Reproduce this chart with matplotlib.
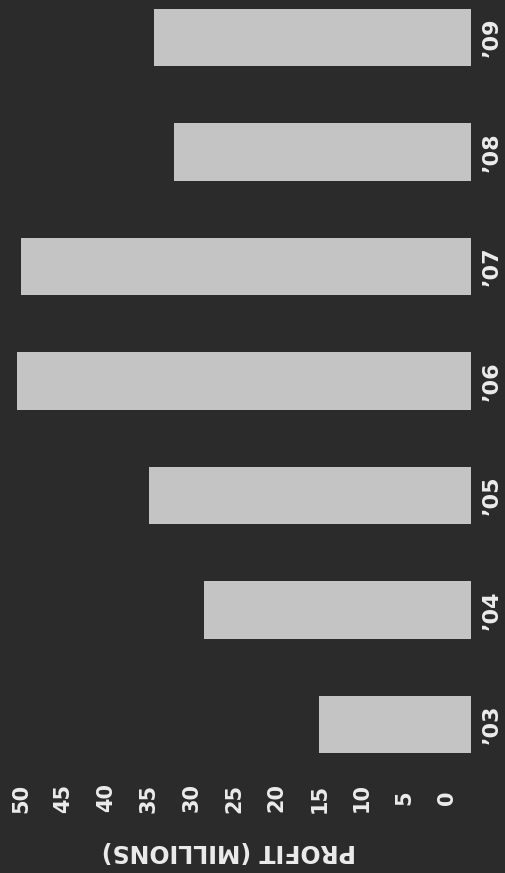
import matplotlib
matplotlib.use("Agg")
import matplotlib.pyplot as plt
import numpy as np

# Annual profit, millions
years = ["\u201903", "\u201904", "\u201905", "\u201906", "\u201907", "\u201908", "\u201909"]
profit = [15, 28.5, 35, 50.5, 50, 32, 34.4]
tick_values = [0, 5, 10, 15, 20, 25, 30, 35, 40, 45, 50]
axis_title = "PROFIT (MILLIONS)"

BG = "#2b2b2b"
BAR = "#c4c4c4"
INK = "#ececec"
BASE = -2.8  # bars rise from just below the zero line

W, H, DPI = 505, 873, 100
fig = plt.figure(figsize=(W / DPI, H / DPI), dpi=DPI, facecolor=BG)
ax = fig.add_axes([0, 0, 1, 1], facecolor=BG)

# chart is laid on its side: value axis runs right-to-left, years bottom-to-top
px_per_unit = 8.52
zero_px = 447
ax.set_xlim(zero_px / px_per_unit, (zero_px - W) / px_per_unit)
step = 114.5
first_center = 724.5
ax.set_ylim((first_center - H) / step, len(years) - 1 + (first_center - (len(years) - 1) * step) / step)

pos = np.arange(len(years))
vals = np.asarray(profit, dtype=float)
ax.barh(pos, vals - BASE, left=BASE, height=0.5, color=BAR, edgecolor="none")

font = dict(family="DejaVu Sans", weight="bold", color=INK)

# year labels beside the bar bases
x_year = (zero_px - 492) / px_per_unit
for p, lab in zip(pos, years):
    ax.text(x_year, p, lab, rotation=90, ha="center", va="center", fontsize=16, **font)

# value scale along the bottom edge
y_ticks = (first_center - 798) / step
for v in tick_values:
    ax.text(v, y_ticks, str(v), rotation=90, ha="center", va="center", fontsize=15, **font)

# value-axis title, upside down
ax.text((zero_px - 229) / px_per_unit, (first_center - 851) / step, axis_title,
        rotation=180, ha="center", va="center", fontsize=17, **font)

ax.set_axis_off()
fig.savefig("out.png", dpi=DPI, facecolor=BG)
